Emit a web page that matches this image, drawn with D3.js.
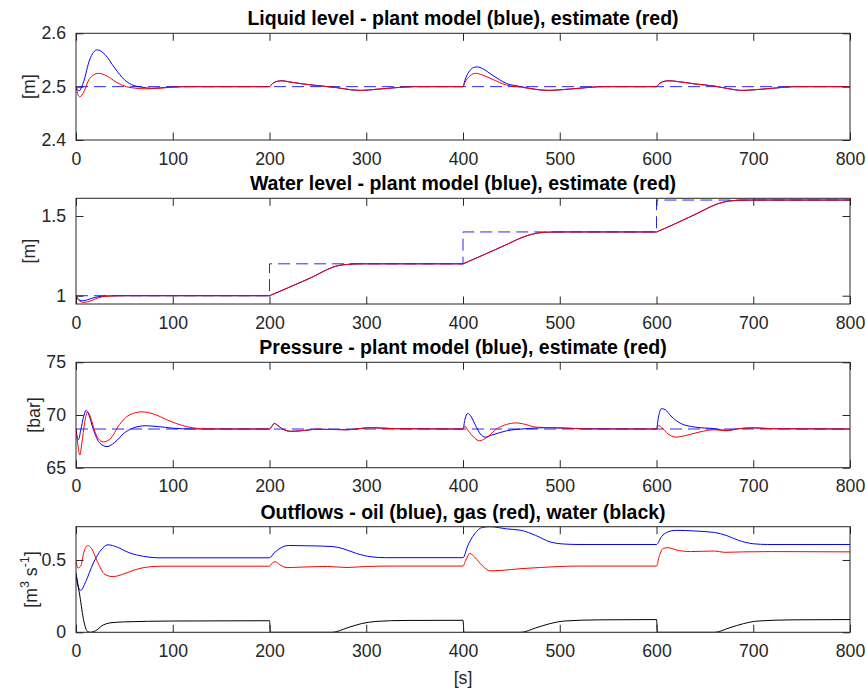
<!DOCTYPE html>
<html>
<head>
<meta charset="utf-8">
<script src="https://cdn.jsdelivr.net/npm/d3@7"></script>
<style>
  body { margin: 0; background: #fff; }
  svg { display: block; font-family: "Liberation Sans", Arial, Helvetica, sans-serif; }
</style>
</head>
<body>
<div id="chart"></div>
<script>
// ---- data ----
const timeTicks = [0, 100, 200, 300, 400, 500, 600, 700, 800];

// liquid level [m]
const levelBlueT = [0, 3, 8, 14, 22, 30, 40, 50, 60, 68, 78, 90, 110, 200, 202, 208, 213, 220, 235, 255, 270, 285, 295, 310, 330, 350, 400, 402, 407, 411, 415, 420, 430, 445, 460, 475, 488, 500, 520, 545, 600, 602, 608, 613, 620, 640, 660, 675, 688, 700, 720, 745, 800];
const levelBlue = [2.5, 2.492, 2.51, 2.55, 2.569, 2.56, 2.535, 2.513, 2.502, 2.499, 2.497, 2.498, 2.5, 2.5, 2.504, 2.51, 2.511, 2.509, 2.505, 2.501, 2.498, 2.494, 2.493, 2.495, 2.498, 2.5, 2.5, 2.512, 2.53, 2.536, 2.537, 2.534, 2.522, 2.506, 2.5, 2.495, 2.493, 2.494, 2.497, 2.5, 2.5, 2.504, 2.51, 2.511, 2.51, 2.505, 2.501, 2.496, 2.493, 2.494, 2.497, 2.5, 2.5];
const levelRedT = [0, 2, 4, 8, 14, 23, 32, 42, 52, 62, 72, 85, 100, 120, 200, 202, 208, 213, 220, 235, 255, 270, 285, 295, 310, 330, 350, 400, 402, 407, 413, 420, 430, 445, 460, 475, 488, 500, 520, 545, 600, 602, 608, 613, 620, 640, 660, 675, 688, 700, 720, 745, 800];
const levelRed = [2.5, 2.485, 2.481, 2.49, 2.515, 2.525, 2.52, 2.508, 2.5, 2.497, 2.496, 2.497, 2.499, 2.5, 2.5, 2.504, 2.51, 2.511, 2.509, 2.505, 2.501, 2.498, 2.494, 2.493, 2.495, 2.498, 2.5, 2.5, 2.508, 2.52, 2.525, 2.522, 2.514, 2.503, 2.499, 2.495, 2.493, 2.494, 2.497, 2.5, 2.5, 2.504, 2.51, 2.511, 2.51, 2.505, 2.501, 2.496, 2.493, 2.494, 2.497, 2.5, 2.5];
const levelSetT = [0, 800];
const levelSet = [2.5, 2.5];

// water level [m]
const waterBlueT = [0, 3, 7, 12, 20, 30, 45, 200, 202, 240, 272, 282, 292, 300, 400, 402, 440, 468, 478, 490, 500, 600, 602, 640, 665, 675, 688, 700, 800];
const waterBlue = [1.0, 0.975, 0.968, 0.975, 0.99, 0.998, 1.0, 1.0, 1.005, 1.105, 1.19, 1.197, 1.2, 1.2, 1.2, 1.205, 1.307, 1.38, 1.394, 1.399, 1.4, 1.4, 1.405, 1.51, 1.58, 1.594, 1.599, 1.6, 1.6];
const waterRedT = [0, 3, 8, 14, 22, 32, 50, 200, 202, 240, 272, 282, 292, 300, 400, 402, 440, 468, 478, 490, 500, 600, 602, 640, 665, 675, 688, 700, 800];
const waterRed = [1.0, 0.97, 0.958, 0.965, 0.985, 0.997, 1.0, 1.0, 1.005, 1.105, 1.19, 1.197, 1.2, 1.2, 1.2, 1.205, 1.307, 1.38, 1.394, 1.399, 1.4, 1.4, 1.405, 1.51, 1.58, 1.594, 1.599, 1.6, 1.6];
const waterSetT = [0, 200, 200, 400, 400, 600, 600, 800];
const waterSet = [1.0, 1.0, 1.2, 1.2, 1.4, 1.4, 1.6, 1.6];

// pressure [bar]
const presBlueT = [0, 1, 2.5, 5, 8, 10.5, 13, 18, 24, 32, 40, 50, 60, 72, 85, 100, 120, 200, 203, 205, 208, 213, 222, 232, 250, 280, 305, 330, 400, 402, 405, 408, 413, 418, 423, 430, 445, 465, 490, 520, 600, 602, 605, 609, 615, 625, 640, 660, 672, 685, 700, 720, 800];
const presBlue = [68.67, 68.0, 67.65, 68.6, 69.9, 70.45, 70.1, 68.6, 67.4, 67.0, 67.4, 68.3, 68.8, 68.98, 68.9, 68.75, 68.68, 68.67, 69.0, 69.2, 69.05, 68.7, 68.45, 68.5, 68.65, 68.6, 68.8, 68.7, 68.67, 69.6, 70.15, 69.9, 69.0, 68.2, 67.9, 68.1, 68.5, 68.7, 68.8, 68.7, 68.67, 69.8, 70.6, 70.5, 69.9, 69.2, 68.85, 68.7, 68.55, 68.7, 68.78, 68.7, 68.67];
const presRedT = [0, 1.5, 4, 6, 9, 12, 15, 20, 28, 35, 45, 55, 68, 80, 95, 110, 130, 150, 200, 203, 205, 208, 213, 222, 232, 250, 280, 305, 330, 400, 402, 404, 410, 417, 425, 435, 445, 455, 465, 475, 490, 510, 530, 600, 602, 605, 612, 620, 630, 645, 660, 672, 685, 700, 720, 800];
const presRed = [68.67, 67.5, 66.2, 67.3, 69.3, 70.3, 69.8, 68.3, 67.45, 67.7, 69.1, 70.0, 70.3, 70.1, 69.5, 69.0, 68.7, 68.67, 68.67, 69.0, 69.2, 69.05, 68.7, 68.45, 68.5, 68.65, 68.6, 68.8, 68.7, 68.67, 68.95, 68.7, 68.0, 67.55, 67.9, 68.7, 69.1, 69.25, 69.1, 68.85, 68.8, 68.75, 68.67, 68.67, 69.0, 68.85, 68.2, 67.9, 68.05, 68.4, 68.6, 68.5, 68.7, 68.78, 68.7, 68.67];
const presSetT = [0, 800];
const presSet = [68.67, 68.67];

// outflows [m3/s]
const oilT = [0, 2, 5, 10, 18, 26, 33, 42, 55, 70, 85, 120, 200, 205, 212, 220, 240, 265, 275, 290, 305, 320, 400, 405, 412, 420, 428, 445, 460, 475, 490, 505, 520, 600, 605, 612, 620, 640, 660, 672, 685, 700, 715, 800];
const oil = [0.40, 0.32, 0.29, 0.35, 0.48, 0.57, 0.605, 0.59, 0.55, 0.525, 0.515, 0.515, 0.515, 0.55, 0.585, 0.6, 0.598, 0.593, 0.58, 0.545, 0.522, 0.516, 0.516, 0.6, 0.68, 0.725, 0.73, 0.715, 0.705, 0.67, 0.625, 0.61, 0.607, 0.607, 0.66, 0.695, 0.705, 0.7, 0.69, 0.67, 0.635, 0.612, 0.607, 0.607];
const gasT = [0, 2, 5, 8, 12, 16, 22, 30, 38, 48, 60, 75, 90, 200, 203, 206, 210, 218, 230, 260, 280, 300, 330, 400, 403, 407, 412, 420, 428, 440, 460, 480, 500, 520, 600, 603, 607, 612, 620, 635, 660, 670, 690, 720, 800];
const gas = [0.50, 0.445, 0.46, 0.55, 0.60, 0.58, 0.49, 0.40, 0.385, 0.40, 0.43, 0.452, 0.457, 0.457, 0.48, 0.488, 0.47, 0.447, 0.45, 0.455, 0.448, 0.455, 0.458, 0.458, 0.5, 0.545, 0.52, 0.46, 0.425, 0.428, 0.44, 0.448, 0.455, 0.458, 0.458, 0.53, 0.58, 0.585, 0.57, 0.558, 0.562, 0.553, 0.556, 0.558, 0.556];
const waterOutT = [0, 4, 8, 12, 15, 20, 28, 35, 50, 100, 200, 201, 265, 280, 295, 310, 340, 400, 401, 460, 475, 490, 505, 540, 600, 601, 660, 675, 690, 705, 740, 800];
const waterOut = [0.41, 0.25, 0.08, 0.005, 0.0, 0.01, 0.05, 0.065, 0.072, 0.078, 0.08, 0.0, 0.0, 0.03, 0.06, 0.075, 0.082, 0.083, 0.0, 0.0, 0.03, 0.06, 0.078, 0.086, 0.088, 0.0, 0.0, 0.03, 0.06, 0.078, 0.086, 0.088];

// ---- layout ----
const width = 866, height = 689;
const xLeft = 76, xRight = 850;
const axisColor = "#262626";
const tickLen = 7.5;

const svg = d3.select("#chart").append("svg")
    .attr("width", width)
    .attr("height", height);

const x = d3.scaleLinear().domain([0, 800]).range([xLeft, xRight]);

const zip = (t, v) => t.map((d, i) => [d, v[i]]);

const panels = [
  {
    title: "Liquid level - plant model (blue), estimate (red)",
    top: 33.3, bottom: 140, domain: [2.4, 2.6], ticks: [2.4, 2.5, 2.6], fmt: d => d.toFixed(1),
    ylabel: ["[m]"], ylabelX: 35,
    series: [
      { d: zip(levelSetT, levelSet), color: "#0000ff", dash: true },
      { d: zip(levelBlueT, levelBlue), color: "#0000ff" },
      { d: zip(levelRedT, levelRed), color: "#ff0000" }
    ]
  },
  {
    title: "Water level - plant model (blue), estimate (red)",
    top: 198.3, bottom: 304, domain: [0.948, 1.611], ticks: [1, 1.5], fmt: d => d3.format("~g")(d),
    ylabel: ["[m]"], ylabelX: 35,
    series: [
      { d: zip(waterSetT, waterSet), color: "#0000ff", dash: true },
      { d: zip(waterBlueT, waterBlue), color: "#0000ff" },
      { d: zip(waterRedT, waterRed), color: "#ff0000" }
    ]
  },
  {
    title: "Pressure - plant model (blue), estimate (red)",
    top: 362.3, bottom: 467.7, domain: [65, 75], ticks: [65, 70, 75], fmt: d => d,
    ylabel: ["[bar]"], ylabelX: 40,
    series: [
      { d: zip(presSetT, presSet), color: "#0000ff", dash: true },
      { d: zip(presBlueT, presBlue), color: "#0000ff" },
      { d: zip(presRedT, presRed), color: "#ff0000" }
    ]
  },
  {
    title: "Outflows - oil (blue), gas (red), water (black)",
    top: 526.7, bottom: 632.3, domain: [0, 0.73], ticks: [0, 0.5], fmt: d => d3.format("~g")(d),
    ylabel: null, ylabelX: 37,
    series: [
      { d: zip(oilT, oil), color: "#0000ff" },
      { d: zip(gasT, gas), color: "#ff0000" },
      { d: zip(waterOutT, waterOut), color: "#000000" }
    ]
  }
];

panels.forEach((p, idx) => {
  const y = d3.scaleLinear().domain(p.domain).range([p.bottom, p.top]);
  const g = svg.append("g");

  const clipId = "clip" + idx;
  g.append("clipPath").attr("id", clipId)
    .append("rect")
    .attr("x", xLeft).attr("y", p.top)
    .attr("width", xRight - xLeft).attr("height", p.bottom - p.top);

  // lines
  const plot = g.append("g").attr("clip-path", `url(#${clipId})`);
  p.series.forEach(s => {
    const line = d3.line()
      .x(d => x(d[0]))
      .y(d => y(d[1]))
      .curve(s.dash ? d3.curveLinear : d3.curveMonotoneX);
    plot.append("path")
      .datum(s.d)
      .attr("fill", "none")
      .attr("stroke", s.color)
      .attr("stroke-width", 1)
      .attr("stroke-dasharray", s.dash ? "12,6" : null)
      .attr("opacity", s.dash ? 0.85 : 1)
      .attr("d", line);
  });

  // axes: bottom/left with labels, top/right ticks only (MATLAB box)
  const xAxis = d3.axisBottom(x).tickValues(timeTicks).tickSizeInner(-tickLen).tickSizeOuter(0).tickPadding(12);
  const xTop = d3.axisTop(x).tickValues(timeTicks).tickSizeInner(-tickLen).tickSizeOuter(0).tickFormat("");
  const yAxis = d3.axisLeft(y).tickValues(p.ticks).tickFormat(p.fmt).tickSizeInner(-tickLen).tickSizeOuter(0).tickPadding(10);
  const yRight = d3.axisRight(y).tickValues(p.ticks).tickSizeInner(-tickLen).tickSizeOuter(0).tickFormat("");

  const axes = [
    g.append("g").attr("transform", `translate(0,${p.bottom})`).call(xAxis),
    g.append("g").attr("transform", `translate(0,${p.top})`).call(xTop),
    g.append("g").attr("transform", `translate(${xLeft},0)`).call(yAxis),
    g.append("g").attr("transform", `translate(${xRight},0)`).call(yRight)
  ];
  axes.forEach(a => {
    a.select(".domain").remove();
    a.selectAll("line").attr("stroke", axisColor).attr("stroke-width", 1);
    a.selectAll("text")
      .attr("fill", axisColor)
      .style("font-size", "17.7px");
  });

  // frame
  g.append("rect")
    .attr("x", xLeft).attr("y", p.top)
    .attr("width", xRight - xLeft).attr("height", p.bottom - p.top)
    .attr("fill", "none")
    .attr("stroke", axisColor)
    .attr("stroke-width", 1);

  // title
  g.append("text")
    .attr("x", (xLeft + xRight) / 2)
    .attr("y", p.top - 8)
    .attr("text-anchor", "middle")
    .style("font-size", "19.5px")
    .style("font-weight", "bold")
    .attr("fill", "#000")
    .text(p.title);

  // y label
  const yl = g.append("text")
    .attr("transform", `translate(${p.ylabelX},${(p.top + p.bottom) / 2}) rotate(-90)`)
    .attr("text-anchor", "middle")
    .attr("fill", axisColor)
    .style("font-size", "17.7px");
  if (p.ylabel) {
    yl.text(p.ylabel[0]);
  } else {
    yl.append("tspan").text("[m");
    yl.append("tspan").attr("dy", -8).style("font-size", "12.5px").text("3");
    yl.append("tspan").attr("dy", 8).text(" s");
    yl.append("tspan").attr("dy", -8).style("font-size", "12.5px").text("-1");
    yl.append("tspan").attr("dy", 8).text("]");
  }
});

// x label
svg.append("text")
  .attr("x", x(400))
  .attr("y", 684)
  .attr("text-anchor", "middle")
  .attr("fill", axisColor)
  .style("font-size", "17.7px")
  .text("[s]");
</script>
</body>
</html>
